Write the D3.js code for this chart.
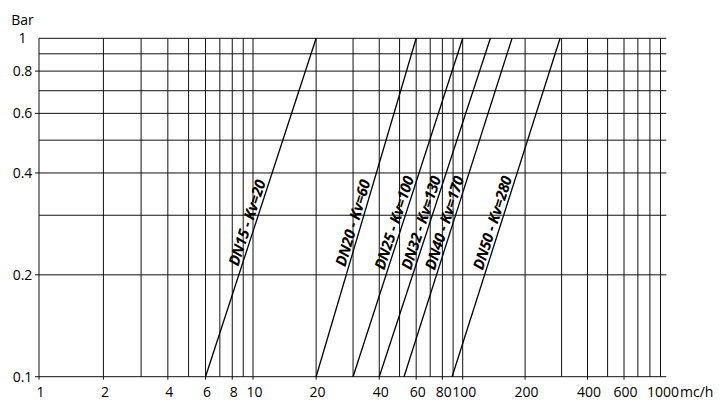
<!DOCTYPE html>
<html>
<head>
<meta charset="utf-8">
<script src="https://cdn.jsdelivr.net/npm/d3@7"></script>
<style>
  html, body { margin: 0; padding: 0; background: #fff; }
  svg { display: block; }
</style>
</head>
<body>
<svg id="chart" width="720" height="416"></svg>
<script>
// ---- data ----
const seriesLabels = ["DN15 - Kv=20", "DN20 - Kv=60", "DN25 - Kv=100", "DN32 - Kv=130", "DN40 - Kv=170", "DN50 - Kv=280"];
const flowAtLowDp  = [6, 20, 30, 40, 52.5, 89];      // m3/h at 0.1 bar
const flowAtHighDp = [20, 60, 100, 136, 173, 295];   // m3/h at 1 bar
const dpLow = 0.1, dpHigh = 1;
const labelDp = 0.28;
const xTickLabels = [1, 2, 4, 6, 8, 10, 20, 40, 60, 80, 100, 200, 400, 600, 1000];
const yTickLabels = [0.1, 0.2, 0.4, 0.6, 0.8, 1];
const xGridValues = [1,2,3,4,5,6,7,8,9,10,20,30,40,50,60,70,80,90,100,200,300,400,500,600,700,800,900];
const yGridValues = [0.1,0.2,0.3,0.4,0.5,0.6,0.7,0.8,0.9,1];
const xEnd = 960;
const xUnit = "mc/h";
const yUnit = "Bar";

// ---- scales ----
const x = d3.scaleLog().domain([1, 10, 100, 1000]).range([39, 253, 462.7, 670]);
const y = d3.scaleLog().domain([0.1, 1]).range([376.7, 38.3]);

const svg = d3.select("#chart");
const axisFont = "'Open Sans', 'Noto Sans', sans-serif";

// grid
const g = svg.append("g").attr("stroke", "#111").attr("stroke-width", 1).attr("fill", "none");
g.selectAll("line.h").data(yGridValues).join("line")
  .attr("x1", x(1)).attr("x2", x(xEnd))
  .attr("y1", d => y(d)).attr("y2", d => y(d));
g.selectAll("line.v").data(xGridValues).join("line")
  .attr("x1", d => x(d)).attr("x2", d => x(d))
  .attr("y1", y(1)).attr("y2", y(0.1));

// ticks
g.selectAll("line.yt").data(yTickLabels.filter(d => d < 1)).join("line")
  .attr("x1", x(1) - 4).attr("x2", x(1))
  .attr("y1", d => y(d)).attr("y2", d => y(d));
g.selectAll("line.xt").data(xTickLabels.filter(d => d < 1000)).join("line")
  .attr("x1", d => x(d)).attr("x2", d => x(d))
  .attr("y1", y(0.1)).attr("y2", y(0.1) + 3);

// tick labels
svg.append("g").selectAll("text").data(yTickLabels).join("text")
  .attr("x", 22.5).attr("y", d => y(d) + 5)
  .attr("text-anchor", "middle")
  .attr("font-family", axisFont).attr("font-size", 14).attr("fill", "#000")
  .text(d => d);
svg.append("text").attr("x", 22.5).attr("y", 25)
  .attr("text-anchor", "middle")
  .attr("font-family", axisFont).attr("font-size", 14).attr("fill", "#000")
  .text(yUnit);

svg.append("g").selectAll("text").data(xTickLabels).join("text")
  .attr("x", d => x(d) + (d === 1000 ? -7 : 1.5)).attr("y", 396.7)
  .attr("text-anchor", "middle")
  .attr("font-family", axisFont).attr("font-size", 14).attr("fill", "#000")
  .text(d => d);
svg.append("text").attr("x", 680).attr("y", 396.7)
  .attr("font-family", axisFont).attr("font-size", 14).attr("fill", "#000")
  .text(xUnit);

// characteristic lines
const lines = seriesLabels.map((lab, i) => ({lab, q0: flowAtLowDp[i], q1: flowAtHighDp[i]}));
svg.append("g").selectAll("line").data(lines).join("line")
  .attr("x1", d => x(d.q0)).attr("y1", y(dpLow))
  .attr("x2", d => x(d.q1)).attr("y2", y(dpHigh))
  .attr("stroke", "#000").attr("stroke-width", 1.3);

// labels along lines
svg.append("g").selectAll("text").data(lines).join("text")
  .attr("transform", d => {
    const x0 = x(d.q0), y0 = y(dpLow), x1 = x(d.q1), y1 = y(dpHigh);
    const t = (Math.log10(labelDp) - Math.log10(dpLow)) / (Math.log10(dpHigh) - Math.log10(dpLow));
    const px = x0 + t * (x1 - x0), py = y0 + t * (y1 - y0);
    const ang = Math.atan2(y1 - y0, x1 - x0) * 180 / Math.PI;
    return `translate(${px},${py}) rotate(${ang})`;
  })
  .attr("y", -3)
  .attr("text-anchor", "middle")
  .attr("font-family", "'Open Sans', sans-serif")
  .attr("font-weight", "bold").attr("font-style", "italic")
  .attr("font-size", 15).attr("letter-spacing", -0.3).attr("fill", "#000")
  .text(d => d.lab);
</script>
</body>
</html>
